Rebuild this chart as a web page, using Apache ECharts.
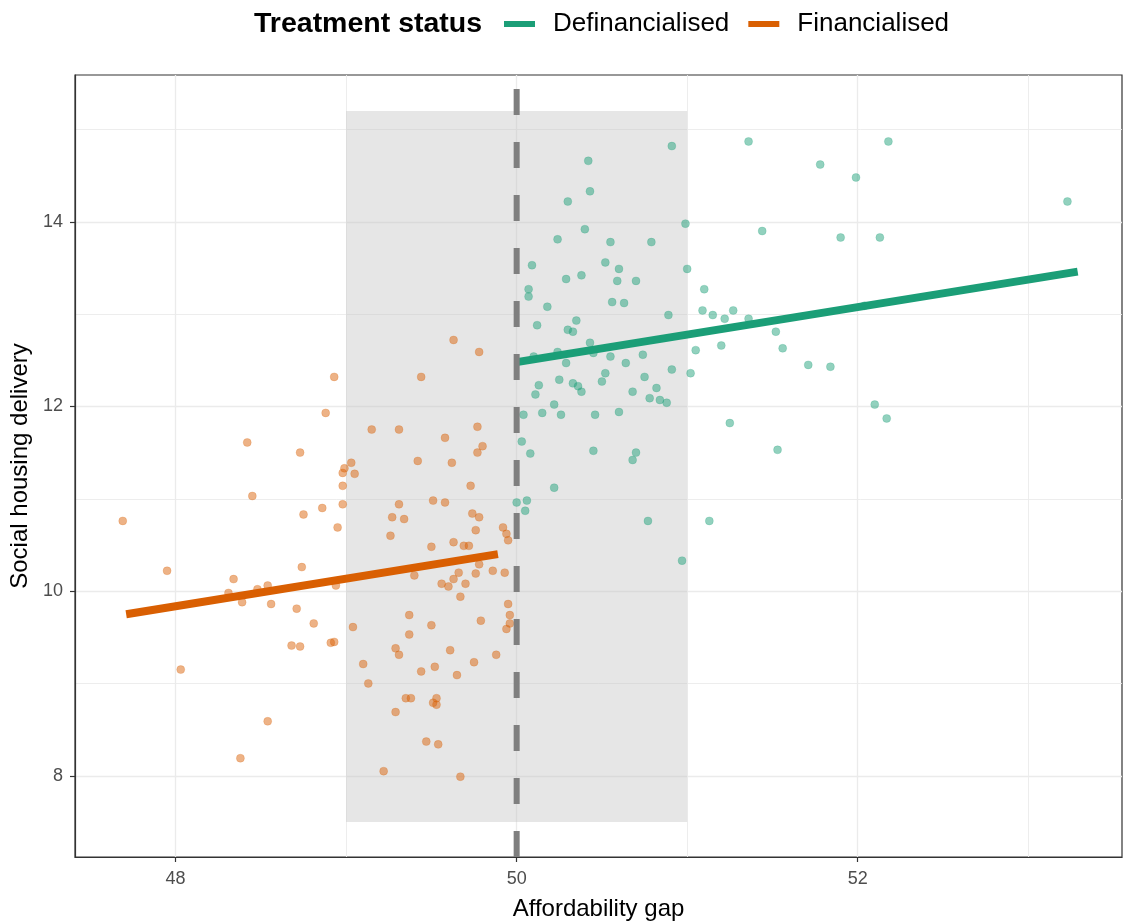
<!DOCTYPE html>
<html>
<head>
<meta charset="utf-8">
<script src="https://cdn.jsdelivr.net/npm/echarts@6/dist/echarts.min.js"></script>
<style>
  html, body { margin: 0; padding: 0; background: #ffffff; }
  #chart { width: 1123px; height: 924px; }
</style>
</head>
<body>
<div id="chart"></div>
<script>
// ---- Data ----
const seriesNames = ['Definancialised', 'Financialised'];
const legendTitle = 'Treatment status';
const xTitle = 'Affordability gap';
const yTitle = 'Social housing delivery';

// Financialised observations [affordability gap, social housing delivery]
const financialisedPoints = [
  [48.42,11.61],[48.73,11.50],[48.45,11.03],[47.69,10.76],[48.75,10.83],[48.86,10.90],[48.95,10.69],
  [47.95,10.22],[48.34,10.13],[48.74,10.26],[48.31,9.98],[48.48,10.02],[48.54,10.06],[48.39,9.88],
  [48.56,9.86],[48.94,10.06],[48.71,9.81],[48.81,9.65],[48.68,9.41],[48.73,9.40],[48.91,9.44],
  [48.93,9.45],[48.03,9.15],[48.54,8.59],[48.38,8.19],[48.88,11.93],
  [49.63,12.72],[49.78,12.59],[48.93,12.32],[49.44,12.32],[49.15,11.75],[49.31,11.75],[49.77,11.78],
  [49.58,11.66],[49.80,11.57],[49.77,11.50],[49.42,11.41],[49.62,11.39],[49.03,11.39],[48.99,11.33],
  [48.98,11.28],[49.05,11.27],[48.98,11.14],[49.73,11.14],[48.98,10.94],[49.31,10.94],[49.51,10.98],
  [49.58,10.96],[49.27,10.80],[49.34,10.78],[49.74,10.84],[49.78,10.80],[49.76,10.66],[49.92,10.69],
  [49.94,10.62],[49.95,10.55],[49.26,10.60],[49.50,10.48],[49.63,10.53],[49.69,10.49],[49.72,10.49],
  [49.78,10.29],[49.66,10.20],[49.76,10.19],[49.86,10.22],[49.93,10.20],[49.40,10.17],[49.63,10.13],
  [49.56,10.08],[49.60,10.05],[49.70,10.08],[49.67,9.94],[49.95,9.86],[49.96,9.74],[49.96,9.65],
  [49.94,9.59],[49.79,9.68],[49.37,9.74],[49.50,9.63],[49.04,9.61],[49.37,9.53],[49.29,9.38],
  [49.31,9.31],[49.61,9.36],[49.88,9.31],[49.75,9.23],[49.10,9.21],[49.44,9.13],[49.52,9.18],
  [49.65,9.09],[49.13,9.00],[49.35,8.84],[49.38,8.84],[49.53,8.84],[49.51,8.79],[49.53,8.77],
  [49.29,8.69],[49.47,8.37],[49.54,8.34],[49.22,8.05],[49.67,7.99]
];

// Definancialised observations [affordability gap, social housing delivery]
const definancialisedPoints = [
  [50.91,14.82],[50.42,14.66],[50.43,14.33],[50.30,14.22],[50.99,13.98],[50.40,13.92],[50.24,13.81],
  [50.55,13.78],[50.79,13.78],[50.09,13.53],[50.52,13.56],[50.60,13.49],[51.00,13.49],[50.29,13.38],
  [50.38,13.42],[50.59,13.36],[50.70,13.36],[50.07,13.27],[50.07,13.19],[51.10,13.27],[50.18,13.08],
  [50.56,13.13],[50.63,13.12],[51.09,13.04],[50.12,12.88],[50.35,12.93],[50.89,12.99],[50.30,12.83],
  [50.33,12.81],[50.43,12.69],[50.24,12.59],[50.10,12.54],[50.29,12.47],[50.45,12.58],[50.55,12.54],
  [50.64,12.47],[50.74,12.56],[51.05,12.61],[50.91,12.40],[51.02,12.36],[50.75,12.32],[50.52,12.36],
  [50.50,12.27],[50.13,12.23],[50.25,12.29],[50.33,12.25],[50.36,12.22],[50.38,12.16],[50.68,12.16],
  [50.82,12.20],[50.11,12.13],[50.78,12.09],[50.84,12.07],[50.88,12.04],[50.22,12.02],[50.04,11.91],
  [50.15,11.93],[50.26,11.91],[50.46,11.91],[50.60,11.94],[50.03,11.62],[50.08,11.49],[50.45,11.52],
  [50.70,11.50],[50.68,11.42],[50.22,11.12],[50.00,10.96],[50.06,10.98],[50.05,10.87],[50.77,10.76],
  [50.97,10.33],
  [51.36,14.87],[52.18,14.87],[51.78,14.62],[51.99,14.48],[53.23,14.22],[51.44,13.90],[51.90,13.83],
  [52.13,13.83],[51.15,12.99],[51.22,12.95],[51.27,13.04],[51.36,12.95],[51.52,12.81],[51.56,12.63],
  [51.20,12.66],[51.71,12.45],[51.84,12.43],[52.04,13.09],[52.10,12.02],[52.17,11.87],[51.25,11.82],
  [51.53,11.53],[51.13,10.76]
];

// Fitted linear trends (endpoints)
const financialisedFit = [[47.71, 9.75], [49.89, 10.40]];
const definancialisedFit = [[50.00, 12.48], [53.29, 13.46]];

// Cutoff and bandwidth window
const cutoff = 50;
const bandX = [49, 51];
const bandY = [7.5, 15.2];

// Axis ranges and ticks
const xRange = [47.41, 53.55];
const yRange = [7.12, 15.59];
const xMajorTicks = [48, 50, 52];
const xMinorTicks = [49, 51, 53];
const yMajorTicks = [8, 10, 12, 14];
const yMinorTicks = [9, 11, 13, 15];

const colors = { Definancialised: '#1B9E77', Financialised: '#D95F02' };
const FONT = '"Liberation Sans", Arial, sans-serif';

const chart = echarts.init(document.getElementById('chart'), null, { renderer: 'canvas' });

function majorAxis(range, ticks, extra) {
  return Object.assign({
    type: 'value',
    min: range[0], max: range[1],
    axisLine: { show: true, onZero: false, lineStyle: { color: '#333333', width: 1.2 } },
    axisTick: { show: true, length: 5, customValues: ticks, lineStyle: { color: '#333333', width: 1.2 } },
    axisLabel: { show: true, customValues: ticks, color: '#4D4D4D', fontSize: 18, fontFamily: FONT },
    splitLine: { show: true, lineStyle: { color: '#EBEBEB', width: 1.3 } },
    nameLocation: 'middle',
    nameTextStyle: { color: '#000000', fontSize: 24, fontFamily: FONT }
  }, extra);
}
function minorAxis(range, ticks, extra) {
  return Object.assign({
    type: 'value',
    min: range[0], max: range[1],
    axisLine: { show: false },
    axisTick: { show: false, customValues: ticks },
    axisLabel: { show: false, customValues: ticks },
    splitLine: { show: true, lineStyle: { color: '#EBEBEB', width: 0.9 } }
  }, extra);
}

const xa = majorAxis(xRange, xMajorTicks, { name: xTitle, nameGap: 40 });
xa.axisLabel.margin = 13;
const ya = majorAxis(yRange, yMajorTicks, { name: yTitle, nameGap: 34 });
ya.axisLabel.margin = 12;

const option = {
  animation: false,
  backgroundColor: '#ffffff',
  title: {
    text: legendTitle,
    left: 249,
    top: 5,
    textStyle: { fontSize: 28.5, fontWeight: 'bold', color: '#000000', fontFamily: FONT }
  },
  legend: {
    left: 499,
    top: 6,
    icon: 'rect',
    itemWidth: 31,
    itemHeight: 6,
    itemGap: 19,
    textStyle: { fontSize: 26, color: '#000000', fontFamily: FONT, padding: [0, 0, 0, 13] },
    data: seriesNames.map(n => ({ name: n, icon: 'rect', itemStyle: { color: colors[n], opacity: 1 } }))
  },
  grid: {
    left: 75, right: 1, top: 75, bottom: 67,
    outerBoundsMode: 'none',
    containLabel: false,
    show: true, borderColor: '#333333', borderWidth: 1.2, backgroundColor: 'transparent'
  },
  xAxis: [xa, minorAxis(xRange, xMinorTicks, { position: 'bottom' })],
  yAxis: [ya, minorAxis(yRange, yMinorTicks, { position: 'left' })],
  series: [
    {
      name: 'Financialised',
      type: 'line',
      data: financialisedFit,
      showSymbol: false,
      lineStyle: { color: colors.Financialised, width: 8, cap: 'butt' },
      itemStyle: { color: colors.Financialised },
      z: 4
    },
    {
      name: 'Definancialised',
      type: 'line',
      data: definancialisedFit,
      showSymbol: false,
      lineStyle: { color: colors.Definancialised, width: 8, cap: 'butt' },
      itemStyle: { color: colors.Definancialised },
      z: 4
    },
    {
      name: 'window',
      type: 'line',
      data: [],
      silent: true,
      z: 1,
      markArea: {
        silent: true,
        itemStyle: { color: 'rgba(192,192,192,0.4)' },
        data: [[{ xAxis: bandX[0], yAxis: bandY[0] }, { xAxis: bandX[1], yAxis: bandY[1] }]]
      }
    },
    {
      name: 'Financialised',
      type: 'scatter',
      data: financialisedPoints,
      symbolSize: 8,
      itemStyle: { color: 'rgba(217,95,2,0.6)', borderColor: 'rgba(217,95,2,0.25)', borderWidth: 1 },
      z: 3
    },
    {
      name: 'Definancialised',
      type: 'scatter',
      data: definancialisedPoints,
      symbolSize: 8,
      itemStyle: { color: 'rgba(27,158,119,0.6)', borderColor: 'rgba(27,158,119,0.25)', borderWidth: 1 },
      z: 3
    },
    {
      name: 'cutoff',
      type: 'line',
      data: [[cutoff, yRange[0]], [cutoff, yRange[1]]],
      showSymbol: false,
      silent: true,
      lineStyle: { color: '#7F7F7F', width: 6, type: [26, 27], cap: 'butt' },
      z: 5
    }
  ]
};

chart.setOption(option);
</script>
</body>
</html>
